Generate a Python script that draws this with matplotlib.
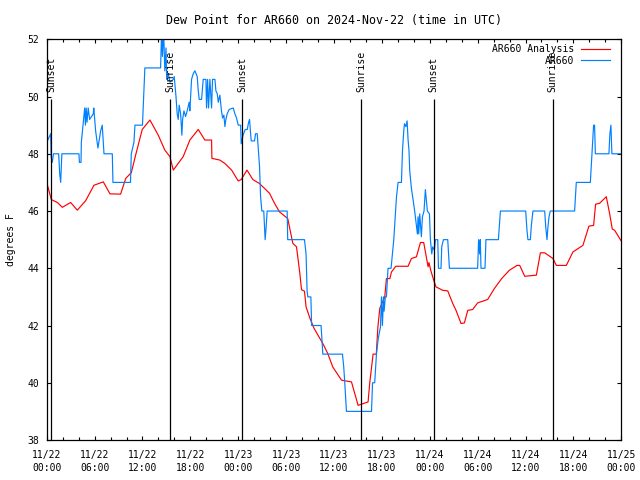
import numpy as np
import matplotlib
matplotlib.use('Agg')
import matplotlib.pyplot as plt
import matplotlib.dates as mdates

# horas desde 2024-11-22 00:00 UTC
inicio = np.datetime64('2024-11-22T00:00')

# AR660 Analysis (rojo)
ana_h = [0.0, 0.58, 1.33, 1.96, 3.0, 3.83, 4.88, 5.92, 7.09, 7.93, 9.26, 9.9, 10.6, 11.14,
         11.97, 12.94, 13.98, 14.8, 15.44, 15.86, 17.1, 17.94, 18.99, 19.82, 20.66, 20.7,
         21.7, 22.33, 23.17, 24.0, 24.37, 25.1, 25.83, 26.67, 27.92, 28.55, 29.17, 30.2,
         30.84, 31.3, 31.72, 31.93, 32.3, 32.5, 33.0, 33.5, 34.0, 34.6, 35.22, 35.85, 36.94,
         38.19, 39.02, 39.64, 40.27, 40.48, 40.9, 41.3, 41.5, 41.74, 42.36, 42.57, 43.0,
         43.2, 43.74, 45.28, 45.7, 46.33, 46.83, 47.24, 47.79, 47.9, 48.12, 48.5, 48.78,
         49.62, 50.25, 50.88, 51.29, 51.92, 52.34, 52.76, 53.38, 54.0, 55.26, 56.09, 57.01,
         57.97, 58.93, 59.27, 59.9, 61.36, 61.86, 62.4, 63.44, 63.86, 65.11, 65.94, 67.19,
         67.94, 68.53, 68.78, 69.28, 70.12, 70.53, 70.87, 71.16, 72.0]
ana_v = [47.0, 46.4, 46.3, 46.13, 46.3, 46.03, 46.36, 46.9, 47.02, 46.6, 46.59, 47.14, 47.34, 47.95,
         48.85, 49.18, 48.65, 48.13, 47.9, 47.43, 47.9, 48.48, 48.85, 48.48, 48.48, 47.84,
         47.78, 47.66, 47.43, 47.05, 47.1, 47.43, 47.1, 46.96, 46.62, 46.27, 45.97, 45.74,
         44.87, 44.75, 43.82, 43.25, 43.2, 42.65, 42.24, 41.9, 41.66, 41.37, 41.02, 40.55, 40.09,
         40.03, 39.21, 39.27, 39.33, 40.0, 41.0, 41.0, 41.95, 42.6, 43.0, 43.64, 43.64,
         43.87, 44.07, 44.07, 44.34, 44.4, 44.9, 44.9, 44.05, 44.2, 43.93, 43.58, 43.35,
         43.23, 43.21, 42.77, 42.53, 42.07, 42.09, 42.53, 42.56, 42.79, 42.91, 43.29, 43.64,
         43.93, 44.1, 44.1, 43.72, 43.76, 44.54, 44.54, 44.34, 44.1, 44.1, 44.57, 44.8,
         45.47, 45.5, 46.24, 46.27, 46.5, 45.92, 45.37, 45.33, 44.95]

# AR660 observaciones (azul)
obs_h = [0.0, 0.5, 0.55, 0.7, 0.85, 1.5, 1.63, 1.75, 1.9, 4.04, 4.1, 4.3, 4.34, 4.55, 4.76,
         4.85, 4.95, 5.05, 5.2, 5.38, 5.84, 5.9, 6.13, 6.42, 6.76, 6.96, 7.18, 8.22, 8.3,
         10.5, 10.6, 10.93, 11.06, 12.0, 12.3, 14.27, 14.4, 14.5, 14.65, 14.8, 14.95, 15.03,
         15.25, 15.44, 15.86, 15.98, 16.2, 16.35, 16.48, 16.6, 16.78, 16.94, 17.03, 17.2,
         17.4, 17.6, 17.85, 17.94, 18.0, 18.15, 18.36, 18.57, 18.86, 18.99, 19.11, 19.41,
         19.61, 19.95, 20.03, 20.16, 20.28, 20.45, 20.66, 20.78, 21.08, 21.2, 21.37, 21.5,
         21.7, 21.9, 22.04, 22.2, 22.33, 22.45, 22.62, 22.87, 23.37, 23.58, 23.79, 24.0,
         24.3, 24.37, 24.6, 24.88, 25.13, 25.3, 25.42, 25.55, 25.63, 26.04, 26.17, 26.38,
         26.55, 26.67, 26.8, 26.96, 27.2, 27.29, 27.37, 27.5, 27.62, 30.13, 30.2, 32.3,
         32.5, 32.63, 32.72, 33.1, 33.2, 34.38, 34.6, 37.06, 37.22, 37.35, 37.56, 40.7,
         40.83, 41.1, 41.32, 41.52, 41.65, 41.82, 41.95, 42.07, 42.2, 42.28, 42.43, 42.57,
         42.77, 43.15, 43.32, 43.49, 43.7, 43.83, 44.03, 44.45, 44.58, 44.74, 44.83, 45.0,
         45.16, 45.28, 45.4, 45.49, 45.7, 45.9, 46.11, 46.32, 46.45, 46.53, 46.62, 46.74,
         46.95, 47.08, 47.28, 47.45, 47.57, 47.7, 47.96, 48.08, 48.25, 48.37, 48.58, 48.71,
         49.0, 49.09, 49.41, 49.5, 49.71, 50.25, 50.46, 54.0, 54.12, 54.25, 54.33, 54.42,
         54.92, 55.04, 56.6, 56.72, 56.85, 60.02, 60.18, 60.3, 60.6, 60.73, 60.93, 62.4,
         62.53, 62.69, 62.81, 62.94, 63.1, 66.15, 66.36, 68.12, 68.32, 68.53, 68.65, 68.75,
         70.45, 70.57, 70.7, 70.82, 72.0]
obs_v = [48.4, 48.7, 47.9, 47.7, 48.0, 48.0, 47.3, 47.0, 48.0, 48.0, 47.7, 47.7, 48.4, 49.0, 49.6,
         49.0, 49.6, 49.1, 49.6, 49.2, 49.4, 49.6, 48.8, 48.2, 48.8, 49.0, 48.0, 48.0, 47.0,
         47.0, 48.0, 48.4, 49.0, 49.0, 51.0, 51.0, 52.3, 51.4, 52.3, 50.9, 51.7, 50.6,
         50.8, 50.5, 50.6, 50.7, 50.0, 49.4, 49.2, 49.7, 49.4, 48.65, 49.2, 49.5,
         49.3, 49.5, 49.8, 49.5, 49.8, 50.6, 50.8, 50.9, 50.7, 50.2, 49.9, 49.9,
         50.6, 50.6, 49.6, 50.6, 49.6, 50.6, 49.6, 50.6, 50.6, 50.2, 50.1, 49.8,
         50.05, 49.5, 49.25, 49.35, 48.95, 49.2, 49.4, 49.55, 49.6, 49.4, 49.25, 49.0,
         49.0, 48.35, 48.65, 48.85, 48.85, 49.1, 49.2, 48.7, 48.45, 48.45, 48.7, 48.7,
         48.0, 47.55, 46.5, 46.0, 46.0, 45.5, 45.0, 45.45, 46.0, 46.0, 45.0, 45.0,
         44.5, 43.2, 43.0, 43.0, 42.0, 42.0, 41.0, 41.0, 40.55, 40.0, 39.0, 39.0,
         40.0, 40.0, 41.0, 41.5, 41.7, 41.95, 43.0, 42.0, 43.0, 42.5, 43.0, 43.0,
         44.0, 44.0, 44.5, 45.0, 45.9, 46.5, 47.0, 47.0, 48.1, 48.8, 49.05, 48.95,
         49.15, 48.5, 48.1, 47.4, 46.8, 46.4, 46.0, 45.5, 45.2, 45.8, 45.2, 45.9,
         45.1, 45.8, 46.0, 46.75, 46.4, 46.0, 45.9, 45.0, 44.5, 44.75, 44.63, 45.0,
         45.0, 44.0, 44.0, 44.75, 45.0, 45.0, 44.0, 44.0, 45.0, 44.5, 45.0, 44.0,
         44.0, 45.0, 45.0, 45.5, 46.0, 46.0, 45.33, 45.0, 45.0, 45.5, 46.0, 46.0,
         45.45, 45.0, 45.45, 45.8, 46.0, 46.0, 47.0, 47.0, 48.0, 49.0, 49.0, 48.0,
         48.0, 48.7, 49.0, 48.0, 48.0]

# salida / puesta de sol
eventos_h = [0.58, 15.48, 24.5, 39.4, 48.5, 63.4]
eventos_txt = ['Sunset', 'Sunrise', 'Sunset', 'Sunrise', 'Sunset', 'Sunrise']


def a_fecha(horas):
    seg = np.round(np.array(horas) * 3600).astype('int64')
    return inicio + seg.astype('timedelta64[s]')


plt.rcParams['font.family'] = 'DejaVu Sans Mono'
plt.rcParams['font.size'] = 7

fig = plt.figure(figsize=(6.4, 4.8), dpi=100)
ax = fig.add_axes([46.7 / 640, 1 - 440 / 480, 574.6 / 640, 400.7 / 480])

ax.plot(a_fecha(ana_h), ana_v, color='#ff0000', lw=0.85, label='AR660 Analysis')
ax.plot(a_fecha(obs_h), obs_v, color='#0080ff', lw=0.85, label='AR660')

for h, txt in zip(eventos_h, eventos_txt):
    t = a_fecha([h])[0]
    ax.vlines(t, 38, 49.9, color='black', lw=0.9)
    ax.text(t, 50.15, txt, rotation=90, ha='center', va='bottom')

ax.set_xlim(a_fecha([0])[0], a_fecha([72])[0])
ax.set_ylim(38, 52)
ax.set_yticks(range(38, 53, 2))
ax.xaxis.set_major_locator(mdates.HourLocator(byhour=range(0, 24, 6)))
ax.xaxis.set_minor_locator(mdates.HourLocator(byhour=range(0, 24, 2)))
ax.xaxis.set_major_formatter(mdates.DateFormatter('%m/%d\n%H:%M'))
ax.tick_params(which='both', direction='in', top=True, right=True, width=0.8)
ax.tick_params(which='major', length=3.2)
ax.tick_params(which='minor', length=2.5)
ax.tick_params(axis='y', pad=5.5)
ax.tick_params(axis='x', pad=7)
for lbl in ax.get_xticklabels():
    lbl.set_linespacing(1.4)
for s in ax.spines.values():
    s.set_linewidth(0.9)

ax.set_title('Dew Point for AR660 on 2024-Nov-22 (time in UTC)', pad=11)
ax.set_ylabel('degrees F')
ax.yaxis.set_label_coords(-0.054, 0.5)

ax.legend(loc='upper right', bbox_to_anchor=(0.980, 0.988), frameon=False,
          markerfirst=False, handlelength=3.0, handletextpad=0.7,
          borderpad=0, borderaxespad=0, labelspacing=0.15)

fig.savefig('out.png', dpi=100)
